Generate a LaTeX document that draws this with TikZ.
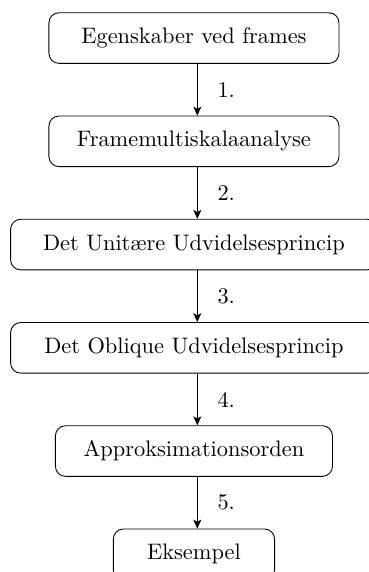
\documentclass[tikz,border=0pt]{standalone}
\usepackage{tikz}
\usetikzlibrary{positioning,arrows.meta}
\tikzset{
	topic/.style = {draw=black, rounded corners=4.5pt, align=center, minimum height=22.6pt, inner sep=0pt},
	step arrow/.style = {-{Stealth[length=4pt,width=3.6pt,inset=1pt]}, thin},
	steplabel/.style = {right=5.5pt, font=\normalsize}
}

\begin{document}
\begin{tikzpicture}[node distance=23.1pt]
		\useasboundingbox (-86.6pt,17pt) rectangle (78.1pt,-238.4pt);
		\node [topic, minimum width=129.5pt] (egensk) at (0,0) {Egenskaber ved frames};
		\node [topic, minimum width=129.5pt, below=of egensk] (framemra) {Framemultiskalaanalyse};
		\node [topic, minimum width=163.7pt, below=of framemra] (unitaer) {Det Unitære Udvidelsesprincip};
		\node [topic, minimum width=163.7pt, below=of unitaer] (oblique) {Det Oblique Udvidelsesprincip};
		\node [topic, minimum width=123.7pt, below=of oblique] (approks) {Approksimationsorden};
		\node [topic, minimum width=72pt, below=of approks] (eksempel) {Eksempel};
		\draw [step arrow] ([xshift=1.5pt]egensk.south) -- node [steplabel] {1.} ([xshift=1.5pt]framemra.north);
		\draw [step arrow] ([xshift=1.5pt]framemra.south) -- node [steplabel] {2.} ([xshift=1.5pt]unitaer.north);
		\draw [step arrow] ([xshift=1.5pt]unitaer.south) -- node [steplabel] {3.} ([xshift=1.5pt]oblique.north);
		\draw [step arrow] ([xshift=1.5pt]oblique.south) -- node [steplabel] {4.} ([xshift=1.5pt]approks.north);
		\draw [step arrow] ([xshift=1.5pt]approks.south) -- node [steplabel] {5.} ([xshift=1.5pt]eksempel.north);
\end{tikzpicture}
\end{document}
